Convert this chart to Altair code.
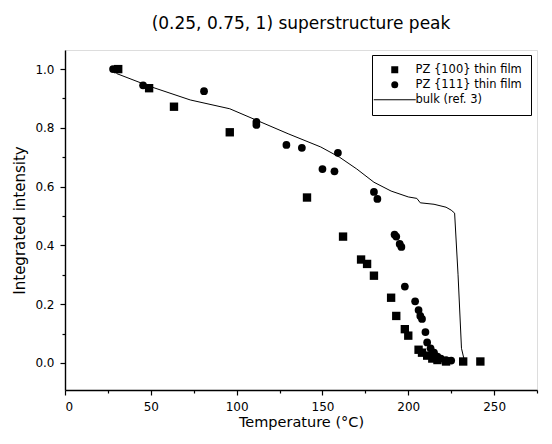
import altair as alt
import pandas as pd

# PZ {100} thin film (squares)
sq_T = [31, 49, 63.5, 96, 141, 162, 172.5, 176, 180, 190, 193, 198, 200, 206, 208, 211, 214, 217, 222, 232, 242]
sq_v = [1.0, 0.935, 0.872, 0.785, 0.563, 0.43, 0.352, 0.337, 0.297, 0.222, 0.16, 0.115, 0.093, 0.045, 0.035, 0.025, 0.015, 0.01, 0.005, 0.005, 0.005]

# PZ {111} thin film (circles)
ci_T = [28, 45.5, 81, 111.5, 111.5, 129, 138, 150, 157, 159, 180, 182, 192, 193, 195, 196, 198, 204, 206, 207, 208, 210, 211, 213, 215, 217, 219, 222, 225]
ci_v = [1.0, 0.945, 0.925, 0.82, 0.81, 0.742, 0.732, 0.66, 0.652, 0.715, 0.582, 0.558, 0.437, 0.43, 0.405, 0.395, 0.26, 0.21, 0.18, 0.16, 0.15, 0.105, 0.07, 0.05, 0.035, 0.022, 0.015, 0.01, 0.008]

# bulk (ref. 3) line
bk_T = [30, 50, 73, 96, 112, 130, 149, 160, 170, 180, 190, 200, 205, 207, 215, 222, 225, 227, 229, 231, 233]
bk_v = [0.985, 0.94, 0.895, 0.865, 0.825, 0.78, 0.735, 0.70, 0.66, 0.615, 0.585, 0.565, 0.56, 0.545, 0.54, 0.53, 0.52, 0.51, 0.30, 0.05, 0.0]

names = ["PZ {100} thin film", "PZ {111} thin film", "bulk (ref. 3)"]

x_major = [0, 50, 100, 150, 200, 250]
x_minor = [25, 75, 125, 175, 225, 275]
y_major = [0.0, 0.2, 0.4, 0.6, 0.8, 1.0]
y_minor = [0.1, 0.3, 0.5, 0.7, 0.9]

df_sq = pd.DataFrame({"T": sq_T, "v": sq_v, "s": names[0]})
df_ci = pd.DataFrame({"T": ci_T, "v": ci_v, "s": names[1]})
df_bk = pd.DataFrame({"T": bk_T, "v": bk_v, "s": names[2]})

FONT = "DejaVu Sans"
xscale = alt.Scale(domain=[0, 275], nice=False, zero=False)
yscale = alt.Scale(domain=[-0.092, 1.065], nice=False, zero=False)

common = dict(grid=False, domainColor="black", tickColor="black", labelColor="black",
              titleColor="black", labelFont=FONT, titleFont=FONT, titleFontWeight="normal")

xax = alt.Axis(orient="bottom", values=x_major, title="Temperature (°C)", format="d", tickSize=5,
               labelFontSize=12, titleFontSize=14.5, labelPadding=6, titlePadding=3,
               domainWidth=1.4, tickWidth=1.2, **common)
yax = alt.Axis(orient="left", values=y_major, title="Integrated intensity", format=".1f", tickSize=5,
               labelFontSize=12, titleFontSize=15, labelPadding=6, titlePadding=7,
               domainWidth=1.4, tickWidth=1.2, **common)

shape_scale = alt.Scale(domain=names, range=["square", "circle", "M-6,-0.16H6V0.16H-6Z"])
legend = alt.Legend(title=None, orient="none", legendX=307, legendY=5,
                    strokeColor="black", padding=9,
                    labelFontSize=11.5, labelFont=FONT, labelColor="black",
                    symbolSize=49, symbolFillColor="black", symbolStrokeColor="black",
                    symbolStrokeWidth=0, symbolOffset=8, labelOffset=15, rowPadding=2)

line = alt.Chart(df_bk).mark_line(color="black", strokeWidth=1).encode(
    x=alt.X("T:Q", scale=xscale, axis=xax),
    y=alt.Y("v:Q", scale=yscale, axis=yax),
)

sq = alt.Chart(df_sq).mark_point(filled=True, color="black", size=70, opacity=1).encode(
    x=alt.X("T:Q", scale=xscale, axis=None),
    y=alt.Y("v:Q", scale=yscale, axis=None),
    shape=alt.Shape("s:N", scale=shape_scale, legend=legend),
)
ci = alt.Chart(df_ci).mark_point(filled=True, color="black", size=60, opacity=1).encode(
    x=alt.X("T:Q", scale=xscale, axis=None),
    y=alt.Y("v:Q", scale=yscale, axis=None),
    shape=alt.Shape("s:N", scale=shape_scale, legend=legend),
)

minor_df = pd.DataFrame({"T": [0], "v": [0]})
minor = alt.Chart(minor_df).mark_point(opacity=0).encode(
    x=alt.X("T:Q", scale=xscale, axis=alt.Axis(orient="bottom", values=x_minor, labels=False, title=None,
                                                  tickSize=3, tickWidth=1.2, domain=False, grid=False,
                                                  tickColor="black")),
    y=alt.Y("v:Q", scale=yscale, axis=alt.Axis(orient="left", values=y_minor, labels=False, title=None,
                                                  tickSize=3, tickWidth=1.2, domain=False, grid=False,
                                                  tickColor="black")),
)

chart = alt.layer(line, sq, ci, minor).resolve_axis(x="independent", y="independent").properties(
    width=472, height=340,
    title=alt.Title("(0.25, 0.75, 1) superstructure peak", fontSize=17, font=FONT,
                    fontWeight="normal", color="black", offset=17),
    autosize=alt.AutoSizeParams(type="none"),
    padding={"left": 57, "top": 42, "right": 7, "bottom": 46},
).configure_view(stroke=None).configure(background="white")

chart.save("out.html", embed_options={"renderer": "svg", "actions": False})
